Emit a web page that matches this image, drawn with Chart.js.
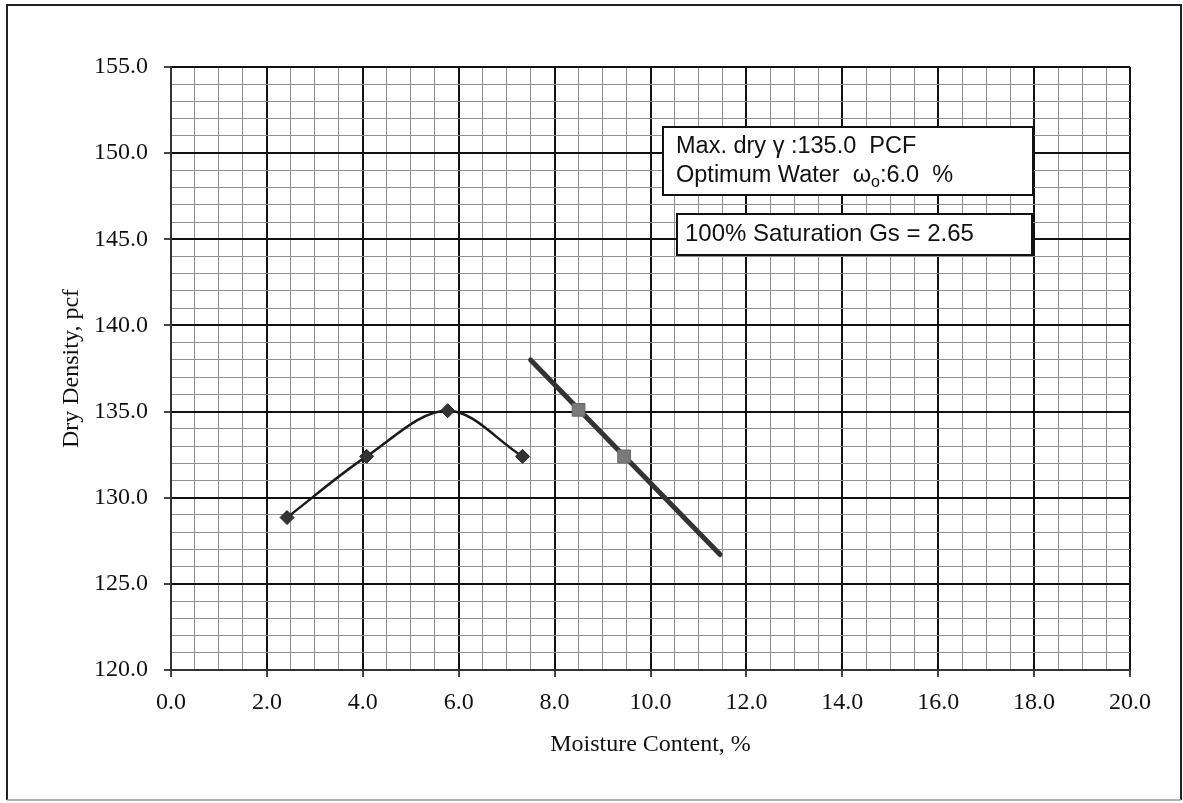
<!DOCTYPE html>
<html><head><meta charset="utf-8">
<script src="https://cdn.jsdelivr.net/npm/chart.js@4/dist/chart.umd.min.js"></script>
<style>html,body{margin:0;padding:0;background:#fff}#wrap{width:1183px;height:803px;position:relative}</style>
</head><body><div id="wrap"><canvas id="c" width="1183" height="803"></canvas></div>
<script>
// data
const compactionMoisture = [2.42, 4.08, 5.77, 7.33];
const compactionDensity = [128.85, 132.4, 135.05, 132.4];
const saturationMoisture = [7.5, 11.45];
const saturationDensity = [138.0, 126.7];
const saturationPointMoisture = [8.5, 9.45];
const saturationPointDensity = [135.1, 132.4];
const xTickLabels = ['0.0','2.0','4.0','6.0','8.0','10.0','12.0','14.0','16.0','18.0','20.0'];
const yTickLabels = ['120.0','125.0','130.0','135.0','140.0','145.0','150.0','155.0'];
const box1Lines = ['Max. dry γ :135.0  PCF', 'Optimum Water  ω', 'o', ':6.0  %'];
const box2Text = '100% Saturation Gs = 2.65';
const xTitle = 'Moisture Content, %';
const yTitle = 'Dry Density, pcf';

const pts = (xs, ys) => xs.map((x, i) => ({x, y: ys[i]}));
const isMajorX = v => Math.abs(v / 2 - Math.round(v / 2)) < 1e-6;
const isMajorY = v => Math.abs(v / 5 - Math.round(v / 5)) < 1e-6;
const serif = '"Liberation Serif", "Times New Roman", serif';
const sans = '"Liberation Sans", Arial, sans-serif';

const overlay = {
  id: 'overlay',
  afterDraw(chart) {
    const ctx = chart.ctx;
    ctx.save();
    // outer frame
    ctx.strokeStyle = '#222';
    ctx.lineWidth = 2;
    ctx.beginPath();
    ctx.moveTo(7, 800); ctx.lineTo(7, 5); ctx.lineTo(1181, 5); ctx.lineTo(1181, 800);
    ctx.stroke();
    ctx.strokeStyle = '#999';
    ctx.lineWidth = 1.5;
    ctx.beginPath(); ctx.moveTo(7, 800); ctx.lineTo(1181, 800); ctx.stroke();
    // box 1
    ctx.fillStyle = '#fff';
    ctx.fillRect(663, 127, 370, 68);
    ctx.strokeStyle = '#111';
    ctx.lineWidth = 2;
    ctx.strokeRect(663, 127, 370, 68);
    ctx.fillStyle = '#111';
    ctx.font = '23.5px ' + sans;
    ctx.textBaseline = 'alphabetic';
    ctx.textAlign = 'left';
    ctx.fillText(box1Lines[0], 676, 153);
    ctx.fillText(box1Lines[1], 676, 182);
    let w = ctx.measureText(box1Lines[1]).width;
    ctx.font = '16px ' + sans;
    ctx.fillText(box1Lines[2], 676 + w, 187);
    let w2 = ctx.measureText(box1Lines[2]).width;
    ctx.font = '23.5px ' + sans;
    ctx.fillText(box1Lines[3], 676 + w + w2, 182);
    // box 2
    ctx.fillStyle = '#fff';
    ctx.fillRect(677, 214, 355, 41);
    ctx.strokeRect(677, 214, 355, 41);
    ctx.fillStyle = '#111';
    ctx.font = '24px ' + sans;
    ctx.fillText(box2Text, 685, 241);
    ctx.restore();
  }
};

new Chart(document.getElementById('c'), {
  type: 'scatter',
  data: {
    datasets: [
      {
        data: pts(compactionMoisture, compactionDensity),
        showLine: true, tension: 0.35,
        borderColor: '#1a1a1a', borderWidth: 2.5,
        pointStyle: 'rectRot', pointRadius: 7,
        pointBackgroundColor: '#333', pointBorderColor: '#222', pointBorderWidth: 1
      },
      {
        data: pts(saturationPointMoisture, saturationPointDensity),
        showLine: false,
        pointStyle: 'rect', pointRadius: 9,
        pointBackgroundColor: '#7a7a7a', pointBorderColor: '#6a6a6a', pointBorderWidth: 1
      },
      {
        data: pts(saturationMoisture, saturationDensity),
        showLine: true, borderColor: '#333', borderWidth: 5,
        borderCapStyle: 'round', pointRadius: 0
      }
    ]
  },
  options: {
    responsive: false, animation: false,
    layout: { padding: { left: 0, top: 67, right: 53, bottom: 0 } },
    plugins: { legend: { display: false }, tooltip: { enabled: false } },
    scales: {
      x: {
        type: 'linear', min: 0, max: 20,
        afterFit(s) { s.height = 133; },
        afterBuildTicks(s) { const t = []; for (let i = 0; i <= 40; i++) t.push({value: i * 0.5}); s.ticks = t; },
        ticks: {
          autoSkip: false, maxRotation: 0, padding: 11,
          color: '#111', font: { family: serif, size: 24 },
          callback: v => isMajorX(v) ? xTickLabels[Math.round(v / 2)] : ''
        },
        grid: {
          color: c => isMajorX(c.tick.value) ? '#111' : '#909090',
          lineWidth: c => isMajorX(c.tick.value) ? 2 : 1,
          tickColor: c => isMajorX(c.tick.value) ? '#444' : 'rgba(0,0,0,0)',
          tickLength: 7
        },
        border: { display: true, color: '#333', width: 2 },
        title: { display: true, text: xTitle, color: '#111', font: { family: serif, size: 24 }, padding: 44 }
      },
      y: {
        type: 'linear', min: 120, max: 155,
        afterFit(s) { s.width = 171; },
        afterBuildTicks(s) { const t = []; for (let v = 120; v <= 155; v++) t.push({value: v}); s.ticks = t; },
        ticks: {
          autoSkip: false, padding: 16,
          color: '#111', font: { family: serif, size: 24 },
          callback: v => isMajorY(v) ? yTickLabels[Math.round((v - 120) / 5)] : ''
        },
        grid: {
          color: c => isMajorY(c.tick.value) ? '#111' : '#909090',
          lineWidth: c => isMajorY(c.tick.value) ? 2 : 1,
          tickColor: c => isMajorY(c.tick.value) ? '#444' : 'rgba(0,0,0,0)',
          tickLength: 7
        },
        border: { display: true, color: '#333', width: 2 },
        title: { display: true, text: yTitle, color: '#111', font: { family: serif, size: 24 }, padding: 57 }
      }
    }
  },
  plugins: [overlay]
});
</script></body></html>
